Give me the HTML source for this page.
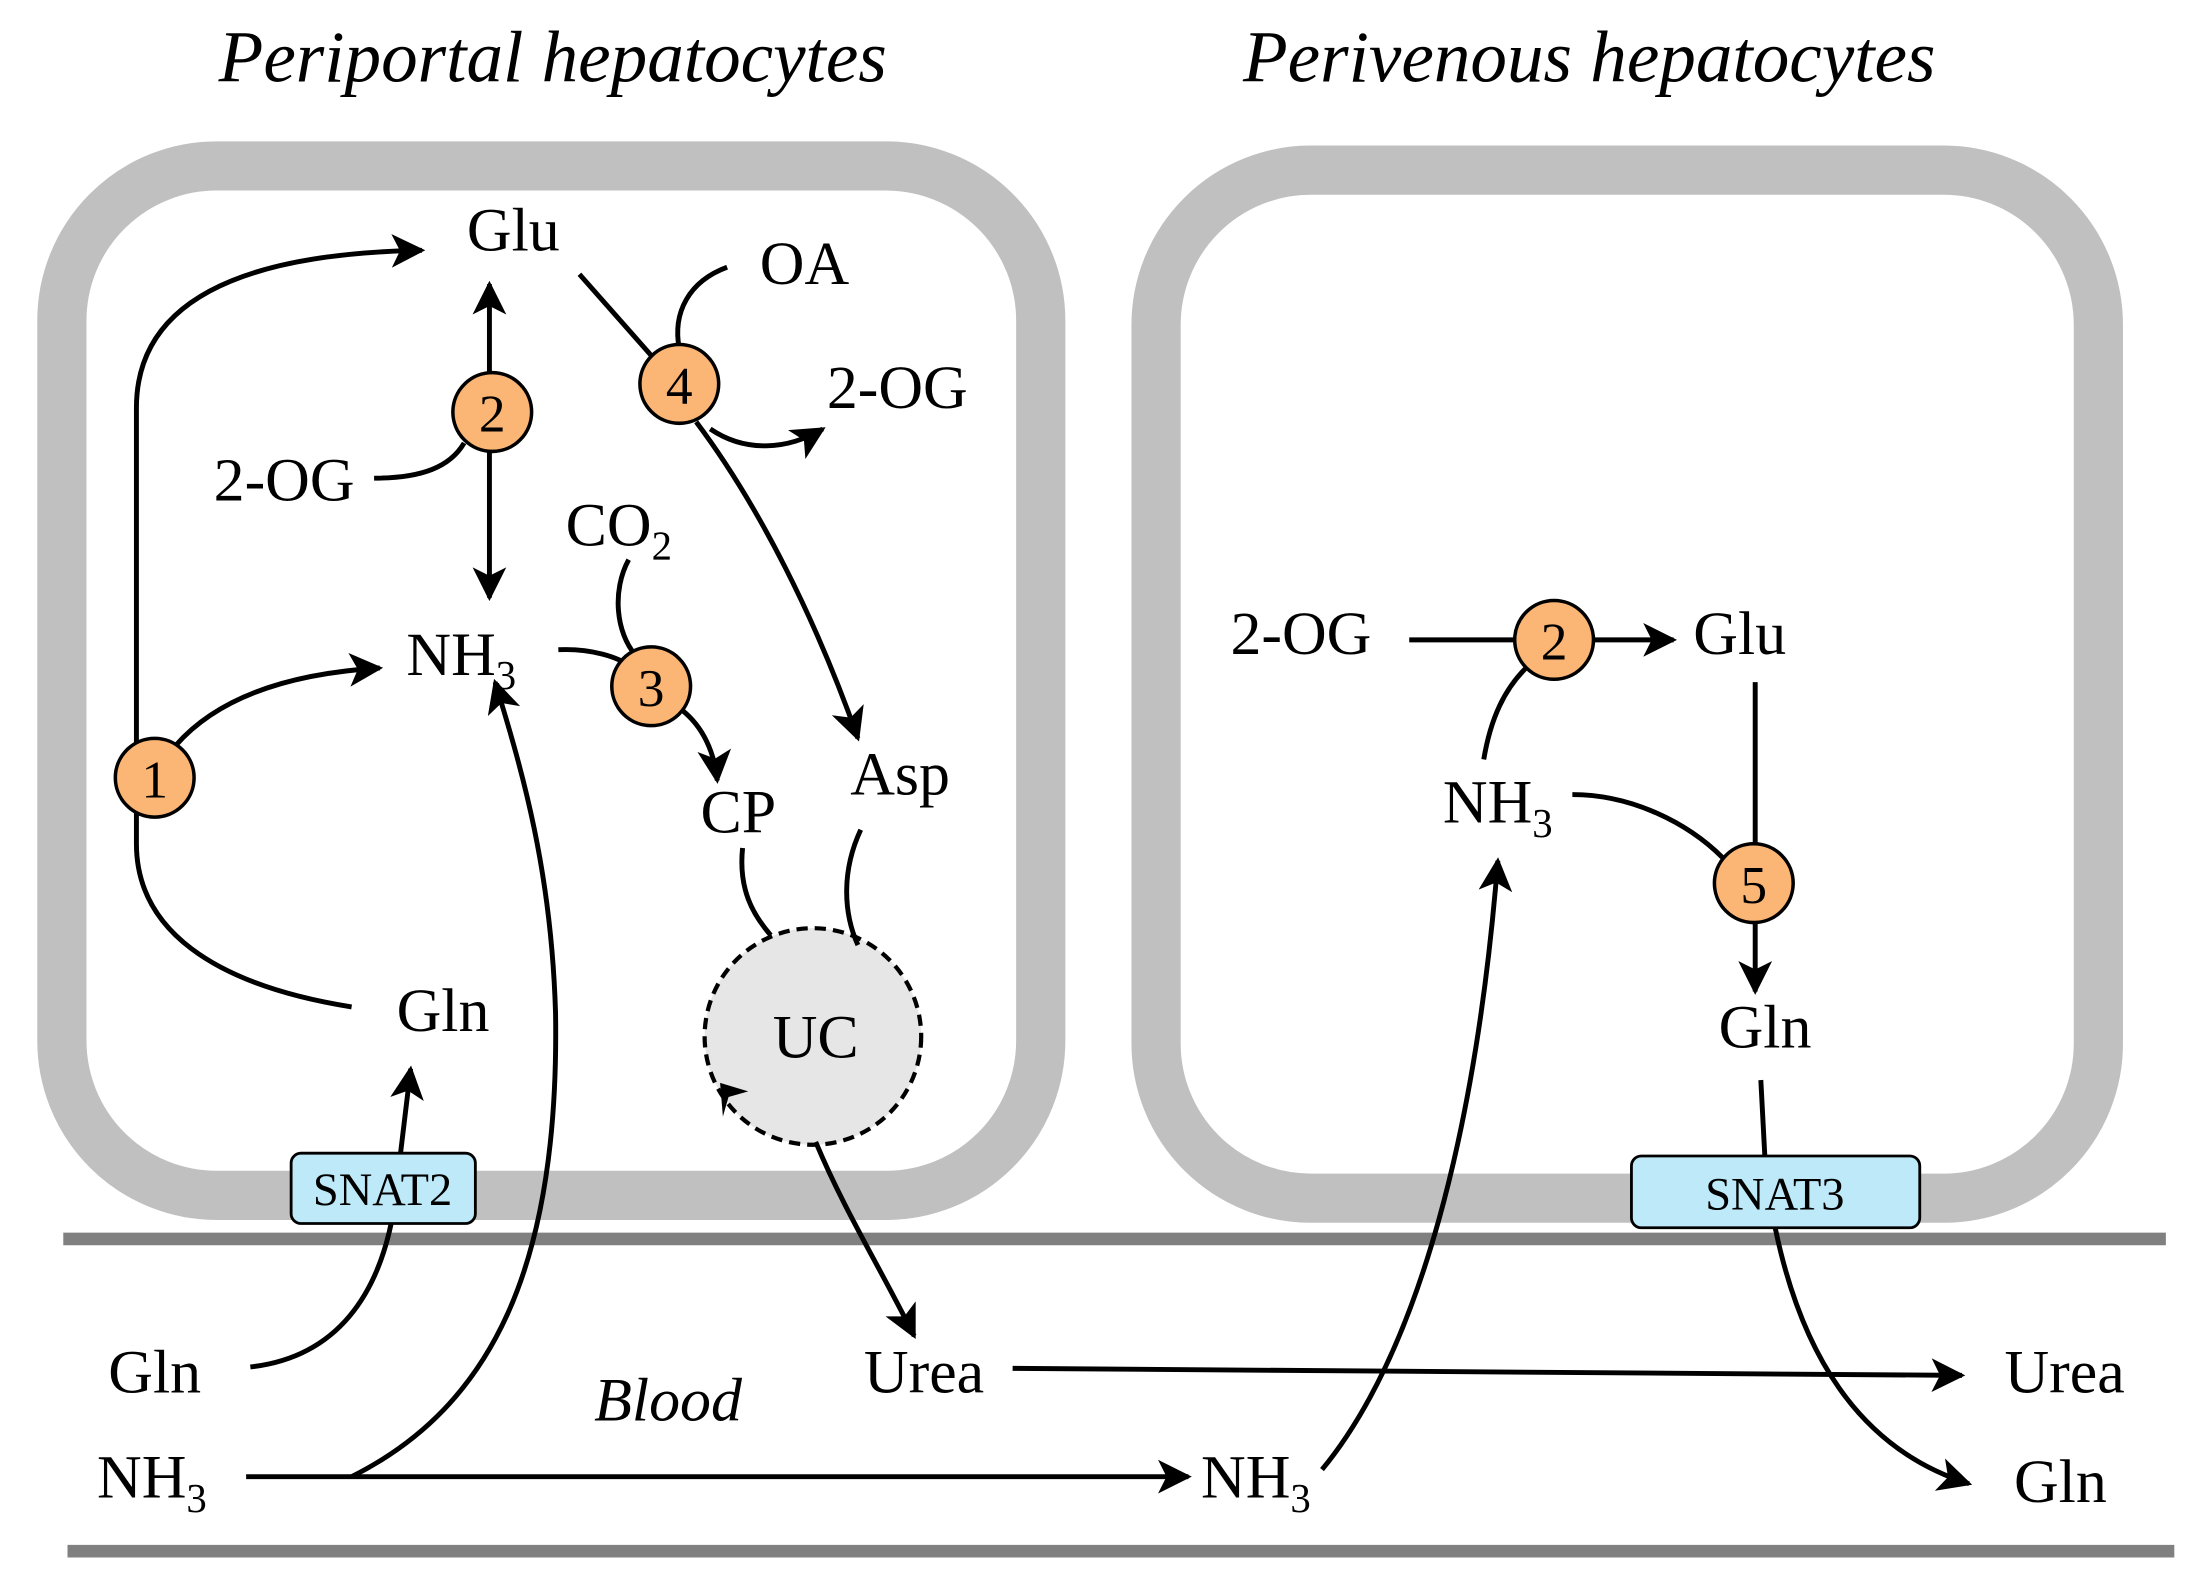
<!DOCTYPE html>
<html><head><meta charset="utf-8"><style>html,body{margin:0;padding:0;background:#fff}svg{display:block}</style></head><body>
<svg width="2194" height="1581" viewBox="0 0 1560 1124.2" preserveAspectRatio="none" xmlns="http://www.w3.org/2000/svg" font-family="Liberation Serif, serif">
<defs><marker id="b" viewBox="0 0 10 10" refX="9" refY="5" markerWidth="24" markerHeight="24" markerUnits="userSpaceOnUse" orient="auto"><path d="M0,0 L10,5 L0,10 L2.5,5 z" fill="#000"/></marker></defs>
<g font-style="italic" font-size="52" text-anchor="middle"><text x="393" y="58">Periportal hepatocytes</text><text x="1130" y="58">Perivenous hepatocytes</text></g>
<rect x="44" y="118" width="696" height="732" rx="110" fill="#fff" stroke="#c0c0c0" stroke-width="35"/>
<rect x="822" y="121" width="670" height="731" rx="110" fill="#fff" stroke="#c0c0c0" stroke-width="35"/>
<line x1="45" y1="881" x2="1540" y2="881" stroke="#808080" stroke-width="9"/>
<line x1="48" y1="1103" x2="1546" y2="1103" stroke="#808080" stroke-width="9"/>
<circle cx="578" cy="737" r="77" fill="#e6e6e6" stroke="#000" stroke-width="3" stroke-dasharray="8,5"/>
<path d="M512,770 l2,24 l4,-14 l14,-4z" fill="#000"/>
<g fill="none" stroke="#000" stroke-width="3.5">
<path d="M250,716 C150,700 97,660 97,600 L97,290 C97,210 180,180 300,178" marker-end="url(#b)"/>
<path d="M125,530 C160,490 220,478 270,475" marker-end="url(#b)"/>
<path d="M348,268 L348,202" marker-end="url(#b)"/>
<path d="M348,320 L348,425" marker-end="url(#b)"/>
<path d="M266,340 C300,340 320,332 330,315"/>
<path d="M412,195 L465,255"/>
<path d="M495,300 C540,360 580,440 610,525" marker-end="url(#b)"/>
<path d="M517,190 C490,200 478,222 483,248"/>
<path d="M505,305 C530,322 560,320 585,305" marker-end="url(#b)"/>
<path d="M447,398 C435,420 438,450 452,466"/>
<path d="M397,462 C420,461 440,467 450,475"/>
<path d="M485,505 C500,517 508,535 510,555" marker-end="url(#b)"/>
<path d="M528,603 C525,632 535,650 548,665"/>
<path d="M612,590 C598,620 600,650 610,672"/>
<path d="M580,812 C600,860 625,900 650,950" marker-end="url(#b)"/>
<path d="M175,1050 L845,1050" marker-end="url(#b)"/>
<path d="M250,1050 C350,1000 398,900 395,720 C392,620 372,550 352,485" marker-end="url(#b)"/>
<path d="M178,972 C240,965 270,920 280,860 L292,760" marker-end="url(#b)"/>
<path d="M720,973 L1395,978" marker-end="url(#b)"/>
<path d="M1002,455 L1078,455"/>
<path d="M1133,455 L1190,455" marker-end="url(#b)"/>
<path d="M1055,540 C1060,510 1070,490 1085,475"/>
<path d="M1248,485 L1248,605"/>
<path d="M1118,565 C1160,565 1200,585 1225,610"/>
<path d="M1248,655 L1248,705" marker-end="url(#b)"/>
<path d="M1252,768 L1255,825"/>
<path d="M1262,872 C1280,960 1320,1030 1400,1055" marker-end="url(#b)"/>
<path d="M940,1045 C1010,960 1050,800 1065,612" marker-end="url(#b)"/>
</g>
<rect x="207" y="820" width="131" height="50" rx="7" fill="#bde9f8" stroke="#000" stroke-width="2"/>
<rect x="1160" y="822" width="205" height="51" rx="7" fill="#bde9f8" stroke="#000" stroke-width="2"/>
<g font-size="33" text-anchor="middle"><text x="272" y="857">SNAT2</text><text x="1262" y="860">SNAT3</text></g>
<g fill="#fbb574" stroke="#000" stroke-width="2.5">
<circle cx="110" cy="553" r="28"/><circle cx="350" cy="293" r="28"/><circle cx="483" cy="273" r="28"/><circle cx="463" cy="488" r="28"/><circle cx="1105" cy="455" r="28"/><circle cx="1247" cy="628" r="28"/></g>
<g font-size="38" text-anchor="middle"><text x="110" y="567">1</text><text x="350" y="307">2</text><text x="483" y="287">4</text><text x="463" y="502">3</text><text x="1105" y="469">2</text><text x="1247" y="642">5</text></g>
<g font-size="44" text-anchor="middle">
<text x="365" y="178">Glu</text><text x="572" y="202">OA</text><text x="638" y="290">2-OG</text><text x="202" y="356">2-OG</text>
<text x="440" y="388">CO<tspan font-size="29" dy="10">2</tspan></text>
<text x="328" y="480">NH<tspan font-size="29" dy="10">3</tspan></text>
<text x="525" y="592">CP</text><text x="640" y="565">Asp</text><text x="580" y="752">UC</text><text x="315" y="733">Gln</text>
<text x="110" y="990">Gln</text><text x="108" y="1065">NH<tspan font-size="29" dy="10">3</tspan></text>
<text x="475" y="1010" font-style="italic">Blood</text><text x="657" y="990">Urea</text>
<text x="893" y="1065">NH<tspan font-size="29" dy="10">3</tspan></text>
<text x="1468" y="990">Urea</text><text x="1465" y="1068">Gln</text>
<text x="925" y="465">2-OG</text><text x="1237" y="465">Glu</text>
<text x="1065" y="585">NH<tspan font-size="29" dy="10">3</tspan></text><text x="1255" y="745">Gln</text>
</g>
</svg>
</body></html>
